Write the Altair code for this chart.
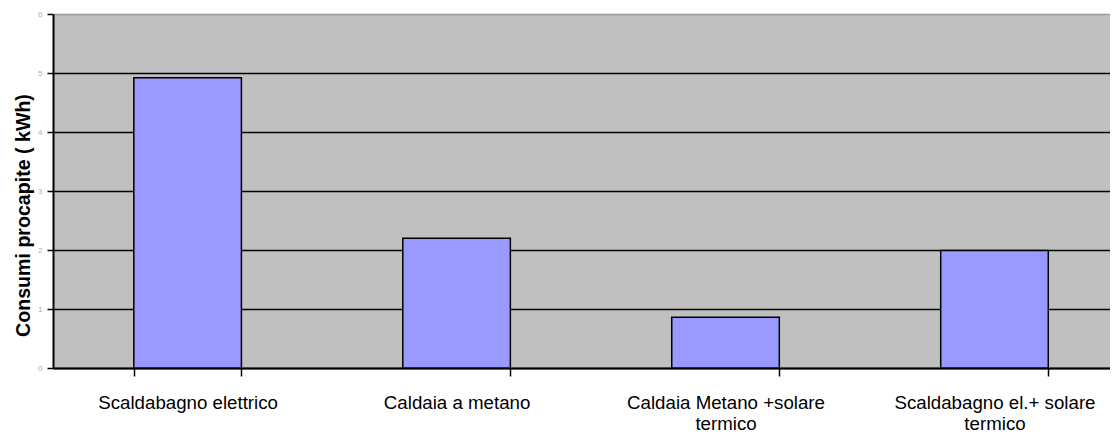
import altair as alt
import pandas as pd

categories = [
    "Scaldabagno elettrico",
    "Caldaia a metano",
    "Caldaia Metano +solare\ntermico",
    "Scaldabagno el.+ solare\ntermico",
]
values = [4.92, 2.2, 0.86, 1.99]
y_ticks = [0, 1, 2, 3, 4, 5, 6]

df = pd.DataFrame({"cat": categories, "val": values})

FONT = "Liberation Sans"

chart = (
    alt.Chart(df)
    .mark_bar(fill="#9999FF", stroke="#000000", strokeWidth=1.5)
    .encode(
        x=alt.X(
            "cat:N",
            sort=None,
            scale=alt.Scale(paddingInner=0.6, paddingOuter=0.265, align=0.567),
            axis=alt.Axis(
                title=None,
                labelAngle=0,
                labelFont=FONT,
                labelFontSize=18.7,
                labelColor="#000000",
                labelLineHeight=21,
                labelPadding=17,
                labelLimit=0,
                labelExpr="split(datum.label, '\\n')",
                tickBand="extent",
                tickSize=8,
                tickColor="#000000",
                tickWidth=1.5,
                domainColor="#000000",
                domainWidth=2,
                grid=False,
            ),
        ),
        y=alt.Y(
            "val:Q",
            scale=alt.Scale(domain=[0, 6], nice=False),
            axis=alt.Axis(
                title="Consumi procapite ( kWh)",
                titleFont=FONT,
                titleFontSize=19.6,
                titleFontWeight="bold",
                titleColor="#000000",
                titlePadding=4,
                titleY=201,
                values=y_ticks,
                labelFont=FONT,
                labelFontSize=8,
                labelColor="#B0B0B0",
                labelPadding=5,
                tickSize=6,
                tickColor="#000000",
                tickWidth=1.5,
                domainColor="#000000",
                domainWidth=2,
                grid=True,
                gridColor=alt.condition("datum.value >= 6", alt.value("#999999"), alt.value("#000000")),
                gridWidth=1.5,
                gridOpacity=1,
            ),
        ),
    )
    .properties(
        width=1057,
        height=354,
        autosize=alt.AutoSizeParams(type="none"),
        padding={"left": 45, "top": 6, "right": 0, "bottom": 65},
        background="#FFFFFF",
    )
    .configure_view(fill="#C0C0C0", stroke="#999999", strokeWidth=1)
)

chart.save("out.html", embed_options={"renderer": "svg", "actions": False})
